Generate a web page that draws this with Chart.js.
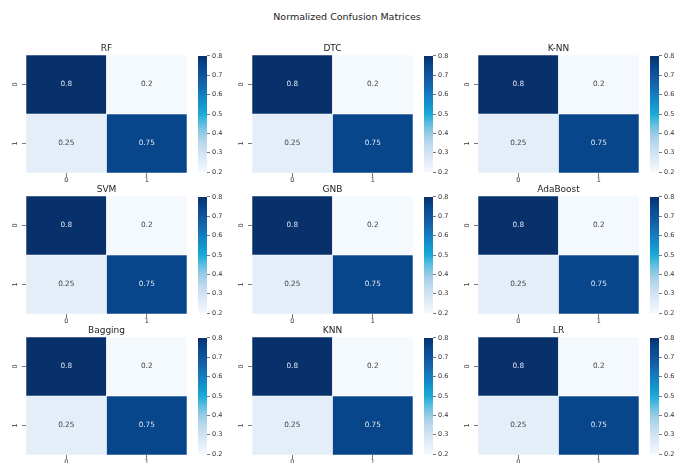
<!DOCTYPE html>
<html>
<head>
<meta charset="utf-8">
<script src="https://cdn.jsdelivr.net/npm/chart.js@4.4.0/dist/chart.umd.min.js"></script>
<style>
  html, body { margin: 0; padding: 0; background: #fff; }
  #figure { position: relative; width: 675px; height: 463px; overflow: hidden; background: #fff;
            font-family: "DejaVu Sans", sans-serif; }
  #suptitle { position: absolute; left: 0; width: 694px; top: 11px; line-height: 12px;
              text-align: center; font-size: 9.5px; color: #222; }
  #figure canvas { position: absolute; }
</style>
</head>
<body>
<div id="figure"><div id="suptitle">Normalized Confusion Matrices</div></div>
<script>
// ---- data ----
const classLabels = ['0', '1'];
const modelNames = ['RF', 'DTC', 'K-NN', 'SVM', 'GNB', 'AdaBoost', 'Bagging', 'KNN', 'LR'];
const rfMatrix       = [[0.8, 0.2], [0.25, 0.75]];
const dtcMatrix      = [[0.8, 0.2], [0.25, 0.75]];
const kNNMatrix      = [[0.8, 0.2], [0.25, 0.75]];
const svmMatrix      = [[0.8, 0.2], [0.25, 0.75]];
const gnbMatrix      = [[0.8, 0.2], [0.25, 0.75]];
const adaBoostMatrix = [[0.8, 0.2], [0.25, 0.75]];
const baggingMatrix  = [[0.8, 0.2], [0.25, 0.75]];
const knnMatrix      = [[0.8, 0.2], [0.25, 0.75]];
const lrMatrix       = [[0.8, 0.2], [0.25, 0.75]];
const colorbarRange = [0.2, 0.8];
const colorbarTicks = [0.2, 0.3, 0.4, 0.5, 0.6, 0.7, 0.8];

const matrices = [rfMatrix, dtcMatrix, kNNMatrix, svmMatrix, gnbMatrix,
                  adaBoostMatrix, baggingMatrix, knnMatrix, lrMatrix];

// ---- colour map (light -> dark blue through cyan) ----
const cmapStops = ['#f4f9fe', '#e4eef9', '#d1e3f3', '#b9d8ed', '#97cbe5', '#5dbde0', '#1aaad8',
                   '#1393cd', '#147dc0', '#1467ae', '#10549c', '#08468c', '#08306b'];
function hexToRgb(h) { return [1, 3, 5].map(i => parseInt(h.slice(i, i + 2), 16)); }
function cmap(v) {
  let t = (v - colorbarRange[0]) / (colorbarRange[1] - colorbarRange[0]);
  t = Math.max(0, Math.min(1, t));
  const pos = t * (cmapStops.length - 1);
  const i = Math.min(Math.floor(pos), cmapStops.length - 2);
  const f = pos - i;
  const a = hexToRgb(cmapStops[i]), b = hexToRgb(cmapStops[i + 1]);
  const c = a.map((x, k) => Math.round(x + (b[k] - x) * f));
  return `rgb(${c[0]},${c[1]},${c[2]})`;
}
function isDark(v) { return (v - colorbarRange[0]) / (colorbarRange[1] - colorbarRange[0]) > 0.55; }

// ---- layout of the 3x3 grid ----
const colLeft = [26, 252, 478];
const rowTop = [55, 196, 337];
const hmW = 161, hmH = 118;
const cbOffset = 172, cbW = 9;
const FONT = '"DejaVu Sans", sans-serif';
const figure = document.getElementById('figure');

function makeCanvas(left, top, w, h) {
  const c = document.createElement('canvas');
  c.width = w; c.height = h;
  c.style.left = left + 'px'; c.style.top = top + 'px';
  c.style.width = w + 'px'; c.style.height = h + 'px';
  figure.appendChild(c);
  return c;
}

// cell value annotations and rotated row labels
const heatmapText = {
  id: 'heatmapText',
  afterDatasetsDraw(chart) {
    const ctx = chart.ctx;
    const m = chart.options.plugins.heatmapText.matrix;
    ctx.save();
    ctx.font = `7.3px ${FONT}`;
    ctx.textAlign = 'center';
    ctx.textBaseline = 'middle';
    chart.data.datasets.forEach((ds, r) => {
      chart.getDatasetMeta(r).data.forEach((bar, c) => {
        const p = bar.getCenterPoint();
        const v = m[r][c];
        ctx.fillStyle = isDark(v) ? '#dfe5ee' : '#444';
        ctx.fillText(String(v), p.x, p.y);
      });
    });
    // row labels, rotated like matplotlib's vertical y tick labels
    const ys = chart.scales.y;
    ctx.font = `6.5px ${FONT}`;
    ctx.fillStyle = '#333';
    ys.ticks.forEach((t, i) => {
      const y = ys.getPixelForValue(t.value);
      ctx.save();
      ctx.translate(chart.chartArea.left - 11, y);
      ctx.rotate(-Math.PI / 2);
      ctx.fillText(classLabels[i], 0, 0);
      ctx.restore();
    });
    ctx.restore();
  }
};

function drawHeatmap(idx) {
  const m = matrices[idx];
  const left = colLeft[idx % 3], top = rowTop[Math.floor(idx / 3)];
  const canvas = makeCanvas(left - 30, top - 13, 30 + hmW + 4, 13 + hmH + 20);
  const datasets = m.map((row, r) => ({
    label: 'row ' + classLabels[r],
    data: row.map(() => [r, r + 1]),
    backgroundColor: row.map(v => cmap(v)),
    borderColor: 'rgba(255,255,255,0.55)',
    borderWidth: 0.6,
    borderSkipped: false,
    barPercentage: 1,
    categoryPercentage: 1
  }));
  new Chart(canvas, {
    type: 'bar',
    data: { labels: classLabels, datasets },
    options: {
      responsive: false, animation: false, devicePixelRatio: 1,
      layout: { padding: { left: 20, right: 4, top: 1, bottom: 0 } },
      scales: {
        x: {
          type: 'category', stacked: true,
          grid: { display: true, drawOnChartArea: false, drawTicks: true, tickLength: 4,
                  offset: false, color: '#555', lineWidth: 0.8 },
          border: { display: false },
          ticks: { font: { family: FONT, size: 6.5 }, color: '#333', padding: -1, maxRotation: 0 },
          afterFit(s) { s.height = 20; }
        },
        y: {
          type: 'linear', stacked: false, min: 0, max: m.length, reverse: true,
          afterBuildTicks(s) { s.ticks = classLabels.map((_, i) => ({ value: i + 0.5 })); },
          grid: { display: true, drawOnChartArea: false, drawTicks: true, tickLength: 4,
                  color: '#555', lineWidth: 0.8 },
          border: { display: false },
          ticks: { display: false },
          afterFit(s) { s.width = 10; }
        }
      },
      plugins: {
        legend: { display: false },
        tooltip: { enabled: false },
        title: { display: true, text: modelNames[idx], fullSize: false, color: '#222',
                 font: { family: FONT, size: 9, weight: 'normal', lineHeight: 1.2 },
                 padding: { top: 0, bottom: 1.2 } },
        heatmapText: { matrix: m }
      }
    },
    plugins: [heatmapText]
  });
}

function drawColorbar(idx) {
  const left = colLeft[idx % 3] + cbOffset, top = rowTop[Math.floor(idx / 3)];
  const canvas = makeCanvas(left, top - 5, 40, hmH + 10);
  new Chart(canvas, {
    type: 'bar',
    data: {
      labels: [''],
      datasets: [{
        data: [colorbarRange],
        borderWidth: 0,
        barPercentage: 1,
        categoryPercentage: 1,
        backgroundColor(ctx) {
          const chart = ctx.chart;
          if (!chart.chartArea) return cmap(0.5);
          const y = chart.scales.y;
          const g = chart.ctx.createLinearGradient(0, y.getPixelForValue(colorbarRange[0]),
                                                   0, y.getPixelForValue(colorbarRange[1]));
          cmapStops.forEach((c, i) => g.addColorStop(i / (cmapStops.length - 1), c));
          return g;
        }
      }]
    },
    options: {
      responsive: false, animation: false, devicePixelRatio: 1,
      layout: { padding: { left: 0, right: 0, top: 5, bottom: 5 } },
      scales: {
        x: { display: false },
        y: {
          type: 'linear', position: 'right', min: colorbarRange[0], max: colorbarRange[1],
          afterBuildTicks(s) { s.ticks = colorbarTicks.map(v => ({ value: v })); },
          grid: { display: true, drawOnChartArea: false, drawTicks: true, tickLength: 3,
                  color: '#555', lineWidth: 0.8 },
          border: { display: false },
          ticks: { font: { family: FONT, size: 6.5 }, color: '#333', padding: 2,
                   callback: v => Number(v).toFixed(1) },
          afterFit(s) { s.width = 40 - cbW; }
        }
      },
      plugins: { legend: { display: false }, tooltip: { enabled: false }, title: { display: false } }
    }
  });
}

for (let i = 0; i < modelNames.length; i++) {
  drawHeatmap(i);
  drawColorbar(i);
}
</script>
</body>
</html>
